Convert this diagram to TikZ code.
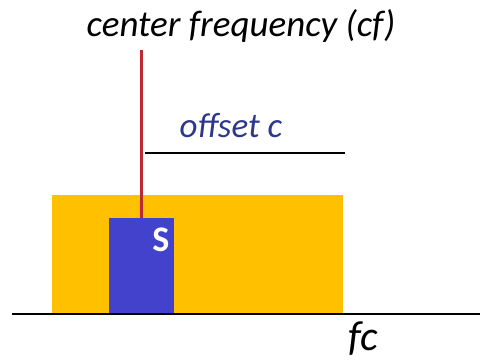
\documentclass[tikz,border=0pt]{standalone}
\usepackage{fontspec}
\setmainfont{Carlito}
\usepackage{tikz}
\usetikzlibrary{positioning}
\definecolor{band}{RGB}{255,192,0}
\definecolor{sigblue}{RGB}{66,66,204}
\definecolor{cfred}{RGB}{190,40,50}
\definecolor{offblue}{RGB}{45,55,140}

\begin{document}
\begin{tikzpicture}[
  x=1pt,y=-1pt,
  lbl/.style={font=\itshape,inner sep=0pt},
  blk/.style={inner sep=0pt,anchor=north west},
]
\useasboundingbox (0,0) rectangle (480,363);

% 频带与信号
\node[blk,fill=band,minimum width=291pt,minimum height=118pt] (band) at (52,195) {};
\node[blk,fill=sigblue,minimum width=65pt,minimum height=95pt] (sig) at (109,218) {};
\node[font=\bfseries\fontsize{36}{38}\selectfont,text=white,inner sep=0pt] (s) at (161,240) {S};

% 标注
\node[lbl,font=\itshape\fontsize{37}{39}\selectfont] (cf) at (241,26) {center frequency (cf)};
\node[lbl,font=\itshape\fontsize{35}{37}\selectfont,text=offblue] (off) at (231,126) {offset c};
\node[lbl,font=\itshape\fontsize{42}{44}\selectfont] (fc) at (363,339) {fc};

% 线
\coordinate (offL) at (145,153);
\coordinate (offR) at (345,153);
\coordinate (axL) at (12,314);
\coordinate (axR) at (480,314);
\draw[cfred,line width=2.5pt] (sig.north) -- (sig.north |- 0,50);
\draw[line width=1.2pt] (offL) -- (offR);
\draw[line width=1.5pt] (axL) -- (axR);

\end{tikzpicture}
\end{document}
